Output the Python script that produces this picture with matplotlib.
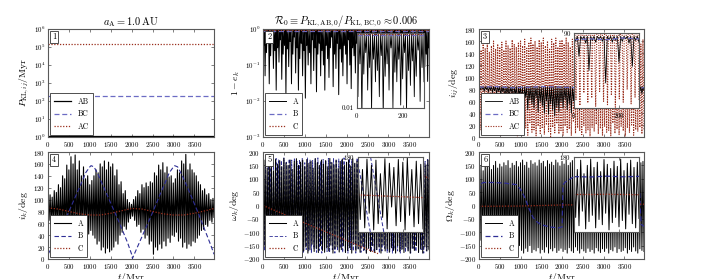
import numpy as np
import matplotlib
matplotlib.use("Agg")
import matplotlib.pyplot as plt

plt.rcParams['font.family'] = 'serif'
plt.rcParams['font.serif'] = ['cmr10', 'DejaVu Serif']
plt.rcParams['mathtext.fontset'] = 'cm'
plt.rcParams['axes.formatter.use_mathtext'] = True

T_END = 3970.0
T_INSET = 290.0

# --- panel 1: Kozai-Lidov time scales (Myr) ---
P_AB = [1.1, 1.1]
P_BC = [185.0, 185.0]
P_AC = [1.4e5, 1.4e5]

# --- panel 2: 1 - e_k ---
eA_top = 0.97
eA_min = [0.35, 0.05, 0.22, 0.6, 0.03, 0.18, 0.4, 0.08, 0.25, 0.02,
          0.3, 0.12, 0.5, 0.04, 0.2, 0.35, 0.015, 0.28, 0.09, 0.45,
          0.03, 0.2, 0.6, 0.06, 0.3, 0.02, 0.15, 0.4, 0.05, 0.25,
          0.012, 0.35, 0.1, 0.22, 0.03, 0.5, 0.07, 0.3, 0.018, 0.2,
          0.4, 0.05, 0.25, 0.1, 0.02, 0.35, 0.15, 0.045, 0.3, 0.6,
          0.025, 0.2, 0.08, 0.4, 0.015, 0.28, 0.12, 0.05, 0.35, 0.2,
          0.03, 0.5, 0.1, 0.022, 0.3, 0.18, 0.06, 0.4, 0.02, 0.25,
          0.14, 0.04, 0.35, 0.09, 0.3, 0.012, 0.22, 0.5, 0.05, 0.18,
          0.3, 0.025, 0.4, 0.11, 0.06, 0.28, 0.02, 0.35, 0.15, 0.45,
          0.035, 0.2, 0.08, 0.3, 0.016, 0.25, 0.5, 0.07, 0.22, 0.04,
          0.33, 0.12, 0.02, 0.28, 0.6, 0.05, 0.2, 0.1, 0.03, 0.4,
          0.18, 0.06, 0.3, 0.015, 0.25, 0.45, 0.09, 0.2, 0.035, 0.3]
eB = [0.88, 0.88]
eC = [0.93, 0.93]
ins_eA_top = 0.93
ins_eA_min = [0.02, 0.15, 0.005, 0.08, 0.3, 0.03, 0.12, 0.008, 0.2, 0.05,
              0.1, 0.02, 0.25, 0.006, 0.07, 0.15, 0.03, 0.4, 0.01, 0.09,
              0.05, 0.2, 0.012, 0.06, 0.3, 0.008, 0.1, 0.04, 0.18, 0.02,
              0.07, 0.35, 0.015, 0.12, 0.05]

# --- panel 3: mutual inclinations (deg) ---
iAB_top = 84.0
iAB_low = [78, 80, 76, 79, 75, 78, 74, 77, 72, 76,
           70, 75, 62, 72, 66, 74, 58, 70, 55, 68,
           60, 50, 66, 45, 62, 55, 48, 65, 42, 58,
           52, 40, 60, 38, 55, 45, 35, 50, 42, 58,
           48, 62, 45, 55, 40, 60, 50, 66, 45, 58,
           55, 68, 48, 62, 52, 70, 45, 60, 58, 72,
           50, 65, 60, 72, 48, 66, 55, 70, 62, 74,
           58, 70, 66, 75, 62, 72, 70, 76, 72, 78]
iAC_high = [150, 145, 155, 148, 158, 142, 152, 160, 147, 155,
            150, 158, 145, 160, 152, 148, 162, 155, 150, 158,
            160, 152, 163, 148, 158, 165, 155, 160, 150, 162,
            158, 165, 152, 160, 148, 163, 157, 165, 150, 160,
            162, 155, 165, 158, 150, 163, 160, 166, 155, 162,
            158, 165, 150, 160, 163, 155, 166, 158, 162, 150,
            160, 165, 155, 162, 158, 166, 150, 160, 163, 157,
            165, 155, 160, 162, 150, 158, 165, 160, 155, 162]
iAC_low = [12, 5, 20, 8, 15, 3, 25, 10, 6, 18,
           2, 14, 9, 22, 4, 16, 7, 12, 1, 20,
           10, 5, 15, 3, 24, 8, 12, 2, 18, 6,
           14, 4, 20, 9, 1, 16, 7, 22, 5, 11,
           3, 18, 8, 13, 2, 25, 6, 15, 10, 4,
           19, 7, 12, 1, 16, 9, 21, 5, 14, 3,
           17, 8, 11, 2, 23, 6, 13, 4, 18, 10,
           1, 15, 7, 20, 3, 12, 9, 16, 5, 11]
iBC = [83, 84, 82, 83, 84, 83, 82, 83, 84, 83, 82]
ins_iAB_low = [80, 62, 82, 78, 45, 81, 79, 83, 80, 30,
               82, 79, 81, 55, 80, 83, 78, 50, 81, 79]
ins_iAC_high = [155, 150, 160, 148, 158, 152, 162, 150, 156, 160,
                148, 158, 154, 162, 150, 157, 160]
ins_iAC_low = [10, 3, 18, 6, 12, 2, 20, 8, 4, 15, 1, 11, 7, 22, 5, 13, 9]
ins_iBC = [82, 83, 82, 84, 83]

# --- panel 4: inclinations i_k (deg) ---
iA_high = [100, 108, 104, 115, 112, 125, 120, 140, 135, 158,
           150, 172, 160, 175, 150, 165, 140, 155, 135, 140,
           125, 132, 140, 150, 145, 160, 155, 165, 150, 163,
           155, 160, 140, 150, 125, 130, 110, 115, 100, 95,
           92, 100, 105, 115, 110, 125, 120, 128, 122, 130,
           128, 145, 140, 158, 150, 162, 145, 155, 138, 140,
           128, 135, 150, 145, 165, 160, 176, 150, 160, 150,
           145, 140, 130, 125, 115, 118, 108, 110, 100, 102]
iA_low = [65, 58, 60, 52, 55, 45, 40, 35, 30, 22,
          25, 15, 30, 20, 35, 28, 40, 35, 45, 42,
          48, 40, 35, 25, 30, 15, 20, 10, 18, 12,
          15, 20, 30, 25, 40, 45, 55, 50, 62, 68,
          72, 65, 55, 58, 45, 50, 35, 40, 25, 30,
          8, 20, 15, 25, 18, 30, 22, 35, 28, 40,
          38, 45, 30, 35, 20, 28, 18, 25, 22, 30,
          28, 35, 40, 48, 50, 58, 55, 65, 62, 70]
tB4 = [0, 100, 200, 300, 400, 500, 600, 700, 800, 900, 1000, 1030, 1100,
       1200, 1300, 1400, 1500, 1600, 1700, 1800, 1900, 2000, 2020, 2100,
       2200, 2300, 2400, 2500, 2600, 2700, 2800, 2900, 3000, 3030, 3100,
       3200, 3300, 3400, 3500, 3600, 3700, 3800, 3900, 3970]
iB = [8, 20, 35, 50, 65, 80, 96, 112, 128, 145, 155, 157, 155,
      142, 126, 110, 94, 78, 62, 45, 28, 8, 1, 14,
      30, 46, 62, 78, 95, 112, 128, 145, 155, 157, 155,
      142, 126, 110, 93, 76, 58, 40, 22, 8]
tC4 = [0, 250, 500, 750, 1000, 1250, 1500, 1750, 2000, 2250, 2500, 2750,
       3000, 3250, 3500, 3750, 3970]
iC = [86, 84, 80, 76, 74, 74, 77, 81, 85, 84, 80, 76, 74, 74, 77, 81, 85]

# --- panel 5: arguments of pericentre (deg) ---
wA_high = [150, 170, 140, 175, 160, 130, 172, 155, 168, 145,
           176, 160, 150, 170, 135, 165, 175, 150, 162, 170,
           145, 172, 158, 166, 140, 175, 160, 150, 170, 155,
           168, 145, 176, 160, 152, 170, 138, 165, 174, 150,
           162, 170, 148, 175, 158, 166, 142, 172, 160, 150,
           170, 155, 168, 145, 176, 160, 152, 170, 138, 165,
           174, 150, 162, 170, 148, 175, 158, 166, 142, 172,
           160, 150, 170, 155, 168, 145, 176, 160, 152, 170]
wA_low = [-150, -175, -160, -140, -178, -165, -155, -172, -145, -168,
          -178, -158, -170, -150, -176, -162, -148, -174, -160, -170,
          -155, -178, -165, -145, -172, -160, -176, -150, -168, -175,
          -158, -170, -148, -178, -162, -155, -174, -165, -150, -176,
          -168, -158, -178, -145, -170, -162, -175, -152, -166, -178,
          -160, -172, -150, -176, -165, -155, -178, -148, -170, -162,
          -175, -158, -168, -178, -150, -172, -164, -176, -155, -170,
          -178, -160, -168, -150, -175, -162, -178, -155, -170, -165]
wB_high = [175, 165, 178, 170, 160, 176, 172, 168, 178, 162,
           174, 170, 178, 165, 172, 176, 160, 178, 170, 168,
           175, 178, 165, 172, 170, 176, 162, 178, 168, 174,
           170, 178, 165, 176, 172, 160, 178, 170, 175, 168,
           178, 165, 172, 176, 170, 178, 162, 174, 168, 178,
           170, 175, 165, 178, 172, 168, 176, 160, 178, 170,
           174, 178, 165, 172]
wB_low = [-170, -178, -162, -175, -168, -178, -160, -172, -176, -165,
          -178, -170, -160, -176, -172, -178, -165, -170, -178, -162,
          -175, -168, -178, -160, -172, -176, -165, -178, -170, -160,
          -176, -172, -178, -165, -170, -178, -162, -175, -168, -178,
          -160, -172, -176, -165, -178, -170, -160, -176, -172, -178,
          -165, -170, -178, -162, -175, -168, -178, -160, -172, -176,
          -165, -178, -170, -162]
tC5 = [0, 2750, 2751, 3970]
wC = [0, -180, np.nan, 102]
tC5b = [2751, 3970]
wCb = [180, 102]
ins_wA_high = [160, 120, 170, 140, 165, 100, 172, 150, 130, 168,
               155, 175, 120, 160, 145]
ins_wA_low = [-120, -160, -90, -170, -140, -110, -165, -60, -150, -130,
              -170, -100, -155, -140, -165]
ins_tB5 = [0, 55, 56, 115, 116, 175, 176, 235, 236, 290]
ins_wB = [150, -180, np.nan, -180, np.nan, -180, np.nan, -180, np.nan, -20]
ins_tB5b = [56, 115, 116, 175, 176, 235, 236, 290]
ins_wBb = [180, -180, np.nan, np.nan, np.nan, np.nan, np.nan, np.nan]
ins_wC = [-2, -15]

# --- panel 6: longitudes of ascending node (deg) ---
OA_high = [140, 150, 130, 155, 145, 160, 135, 150, 165, 140,
           155, 145, 160, 150, 168, 140, 158, 150, 165, 145,
           160, 170, 150, 162, 140, 168, 155, 160, 148, 170,
           158, 165, 145, 168, 155, 162, 150, 170, 160, 148,
           165, 155, 170, 150, 160, 168, 145, 162, 170, 155,
           160, 168, 150, 165, 158, 170, 148, 162, 168, 155,
           165, 150, 170, 158, 162, 145, 168, 155, 165, 160,
           150, 170, 158, 165, 148, 162, 170, 155, 160, 165]
OA_low = [-130, -150, -120, -155, -140, -160, -135, -150, -165, -145,
          -160, -150, -170, -155, -175, -145, -165, -160, -175, -150,
          -168, -178, -160, -172, -150, -176, -165, -170, -158, -178,
          -165, -175, -155, -178, -162, -170, -158, -176, -168, -160,
          -172, -165, -178, -158, -170, -176, -155, -168, -178, -162,
          -170, -176, -160, -172, -165, -178, -158, -170, -176, -162,
          -172, -160, -178, -165, -170, -155, -176, -162, -172, -168,
          -158, -178, -165, -172, -155, -170, -178, -162, -168, -172]
tB6 = [0, 40, 100, 300, 600, 900, 1000, 1100, 1200, 1300, 1400, 1500,
       1700, 1900, 2000, 2020, 2060, 2150, 2250, 2400, 3000, 3600, 3850,
       3900, 3970]
OB = [55, 80, 86, 86, 84, 78, 60, 30, -10, -45, -62, -72,
      -80, -84, -80, 75, 86, 95, 105, 108, 108, 108, 100,
      -70, -78]
tC6 = [0, 1000, 2000, 3000, 3970]
OC = [-3, -2, 2, 3, 5]
ins_OA_high = [150, 120, 165, 100, 140, 170, 130, 155, 110, 168,
               145, 125, 160, 135, 170, 115, 150, 165, 130, 155]
ins_OA_low = [-110, -150, -80, -165, -130, -100, -160, -120, -145, -90,
              -170, -135, -110, -155, -125, -165, -95, -140, -160, -115]
ins_OB = [86, 84, 88, 85, 87]
ins_OC = [0, 0, 1, 0, -1]

BLUE = '#2e2e96'
BLUE_L = '#6c6cc4'
RED = '#9a2e1c'
DASH = (0, (4, 2.2))
DOT = (0, (1, 1.3))
W, H = 721, 279


def zigzag(t1, tops, bots):
    """interleave typed maxima and minima on an even time grid"""
    vals = np.empty(2 * len(bots))
    vals[0::2] = tops
    vals[1::2] = bots
    return np.linspace(0, t1, len(vals)), vals


def px_axes(fig, x0, y0, x1, y1):
    return fig.add_axes([x0 / W, 1 - y1 / H, (x1 - x0) / W, (y1 - y0) / H])


def style(ax, size=5):
    ax.tick_params(which='both', direction='in', top=True, right=True,
                   labelsize=size, length=2.5, width=0.5, pad=2,
                   color='0.3')
    ax.tick_params(which='minor', length=0)
    for s in ax.spines.values():
        s.set_linewidth(0.8)
        s.set_color('0.35')


def tag(ax, num):
    ax.text(0.025, 0.965, num, transform=ax.transAxes, ha='left', va='top',
            fontsize=6, zorder=10,
            bbox=dict(boxstyle='square,pad=0.25', fc='white', ec='0.2',
                      lw=0.6))


def legend(ax, labels, handles=None):
    if handles is None:
        handles = ax.get_lines()[:len(labels)]
    leg = ax.legend(handles, labels, loc='lower left', fontsize=5.5,
                    fancybox=False, edgecolor='0.2', framealpha=1,
                    handlelength=2.2, borderpad=0.5, labelspacing=0.55,
                    borderaxespad=0.3, handletextpad=0.9)
    leg.get_frame().set_linewidth(0.6)
    leg.set_zorder(9)


fig = plt.figure(figsize=(W / 100, H / 100), dpi=100)

ax1 = px_axes(fig, 48, 29, 214, 137)
ax2 = px_axes(fig, 263, 29, 429, 137)
ax3 = px_axes(fig, 479, 29, 644, 137)
ax4 = px_axes(fig, 48, 152, 214, 259)
ax5 = px_axes(fig, 263, 152, 429, 259)
ax6 = px_axes(fig, 479, 152, 644, 259)

# panel 1
ax1.plot([0, T_END], P_AB, color='k', lw=0.9)
ax1.plot([0, T_END], P_BC, color=BLUE_L, lw=0.9, linestyle=DASH)
ax1.plot([0, T_END], P_AC, color=RED, lw=0.9, linestyle=DOT)
ax1.set_yscale('log')
ax1.set_ylim(1, 1e6)
ax1.set_yticks([10.0 ** k for k in range(7)])
ax1.set_ylabel(r'$P_{\mathrm{KL},ij}/\mathrm{Myr}$', fontsize=7, labelpad=2)
ax1.set_title(r'$a_\mathrm{A} = 1.0\,\mathrm{AU}$', fontsize=7.5, pad=3)
legend(ax1, ['AB', 'BC', 'AC'])
tag(ax1, '1')

# panel 2
t, v = zigzag(T_END, eA_top, eA_min)
ax2.plot(t, v, color='k', lw=0.7)
ax2.plot([0, T_END], eB, color=BLUE_L, lw=0.9, linestyle=DASH)
ax2.plot([0, T_END], eC, color=RED, lw=0.9, linestyle=DOT)
ax2.set_yscale('log')
ax2.set_ylim(1e-3, 1)
ax2.set_yticks([1e-3, 1e-2, 1e-1, 1])
ax2.set_ylabel(r'$1-e_k$', fontsize=7, labelpad=2)
ax2.set_title(r'$\mathcal{R}_0 \equiv P_{\mathrm{KL,AB},0}/P_{\mathrm{KL,BC},0}'
              r' \approx 0.006$', fontsize=7.5, pad=3)
legend(ax2, ['A', 'B', 'C'])
tag(ax2, '2')

# panel 3
t, v = zigzag(T_END, iAC_high, iAC_low)
l_ac, = ax3.plot(t, v, color=RED, lw=0.8, linestyle=DOT)
t, v = zigzag(T_END, iAB_top, iAB_low)
l_ab, = ax3.plot(t, v, color='k', lw=0.6)
l_bc, = ax3.plot(np.linspace(0, T_END, len(iBC)), iBC, color=BLUE_L, lw=0.9,
                 linestyle=DASH)
ax3.set_ylim(0, 180)
ax3.set_yticks(range(0, 181, 20))
ax3.set_ylabel(r'$i_{ij}/\mathrm{deg}$', fontsize=7, labelpad=2)
legend(ax3, ['AB', 'BC', 'AC'], [l_ab, l_bc, l_ac])
tag(ax3, '3')

# panel 4
t, v = zigzag(T_END, iA_high, iA_low)
ax4.plot(t, v, color='k', lw=0.8)
ax4.plot(tB4, iB, color=BLUE, lw=0.8, linestyle=DASH)
ax4.plot(tC4, iC, color=RED, lw=0.9, linestyle=DOT)
ax4.set_ylim(0, 180)
ax4.set_yticks(range(0, 181, 20))
ax4.set_ylabel(r'$i_k/\mathrm{deg}$', fontsize=7, labelpad=2)
legend(ax4, ['A', 'B', 'C'])
tag(ax4, '4')

# panel 5 (B drawn first so A sits on top, as in the original)
t, v = zigzag(T_END, wB_high, wB_low)
l_b, = ax5.plot(t, v, color=BLUE, lw=0.6, linestyle=DASH)
t, v = zigzag(T_END, wA_high, wA_low)
l_a, = ax5.plot(t, v, color='k', lw=0.75)
l_c, = ax5.plot(tC5, wC, color=RED, lw=0.9, linestyle=DOT)
ax5.plot(tC5b, wCb, color=RED, lw=0.9, linestyle=DOT)
ax5.set_ylim(-200, 200)
ax5.set_yticks(range(-200, 201, 50))
ax5.set_ylabel(r'$\omega_k/\mathrm{deg}$', fontsize=7, labelpad=1)
legend(ax5, ['A', 'B', 'C'], [l_a, l_b, l_c])
tag(ax5, '5')

# panel 6
t, v = zigzag(T_END, OA_high, OA_low)
ax6.plot(t, v, color='k', lw=0.7)
ax6.plot(tB6, OB, color=BLUE, lw=0.9, linestyle=DASH)
ax6.plot(tC6, OC, color=RED, lw=0.9, linestyle=DOT)
ax6.set_ylim(-200, 200)
ax6.set_yticks(range(-200, 201, 50))
ax6.set_ylabel(r'$\Omega_k/\mathrm{deg}$', fontsize=7, labelpad=1)
legend(ax6, ['A', 'B', 'C'])
tag(ax6, '6')

for ax in (ax1, ax2, ax3, ax4, ax5, ax6):
    ax.set_xlim(0, T_END)
    ax.set_xticks(range(0, 3501, 500))
    style(ax)
for ax in (ax4, ax5, ax6):
    ax.set_xlabel(r'$t/\mathrm{Myr}$', fontsize=7, labelpad=0)

# insets
in2 = px_axes(fig, 357, 33, 424, 108)
t, v = zigzag(T_INSET, ins_eA_top, ins_eA_min)
in2.plot(t, v, color='k', lw=0.6)
in2.plot([0, T_INSET], eB, color=BLUE_L, lw=0.9, linestyle=DASH)
in2.plot([0, T_INSET], eC, color=RED, lw=0.9, linestyle=DOT)
in2.set_yscale('log')
in2.set_ylim(0.01, 1)
in2.set_yticks([0.01])
in2.set_yticklabels(['0.01'])

in3 = px_axes(fig, 574, 33, 639, 108)
t, v = zigzag(T_INSET, ins_iAC_high, ins_iAC_low)
in3.plot(t, v, color=RED, lw=0.8, linestyle=DOT)
t, v = zigzag(T_INSET, 86, ins_iAB_low)
in3.plot(t, v, color='k', lw=0.6)
in3.plot(np.linspace(0, T_INSET, len(ins_iBC)), ins_iBC, color=BLUE_L,
         lw=0.9, linestyle=DASH)
in3.set_ylim(0, 90)
in3.set_yticks([90])

in5 = px_axes(fig, 358, 157, 423, 232)
in5.plot(ins_tB5, ins_wB, color=BLUE, lw=0.7, linestyle=DASH)
in5.plot(ins_tB5b, ins_wBb, color=BLUE, lw=0.7, linestyle=DASH)
t, v = zigzag(T_INSET, ins_wA_high, ins_wA_low)
in5.plot(t, v, color='k', lw=0.7)
in5.plot([0, T_INSET], ins_wC, color=RED, lw=0.9, linestyle=DOT)
in5.set_ylim(-180, 180)
in5.set_yticks([180])

in6 = px_axes(fig, 574, 157, 639, 232)
t, v = zigzag(T_INSET, ins_OA_high, ins_OA_low)
in6.plot(t, v, color='k', lw=0.7)
in6.plot(np.linspace(0, T_INSET, len(ins_OB)), ins_OB, color=BLUE, lw=0.9,
         linestyle=DASH)
in6.plot(np.linspace(0, T_INSET, len(ins_OC)), ins_OC, color=RED, lw=0.9,
         linestyle=DOT)
in6.set_ylim(-180, 180)
in6.set_yticks([180])

for ax in (in2, in3):
    ax.set_xlim(0, T_INSET)
    ax.set_xticks([0, 200])
    style(ax, 5)
for ax in (in5, in6):
    ax.set_xlim(0, T_INSET)
    ax.set_xticks([0, 200])
    ax.set_xticklabels([])
    style(ax, 5)

fig.savefig('out.png', dpi=100)
